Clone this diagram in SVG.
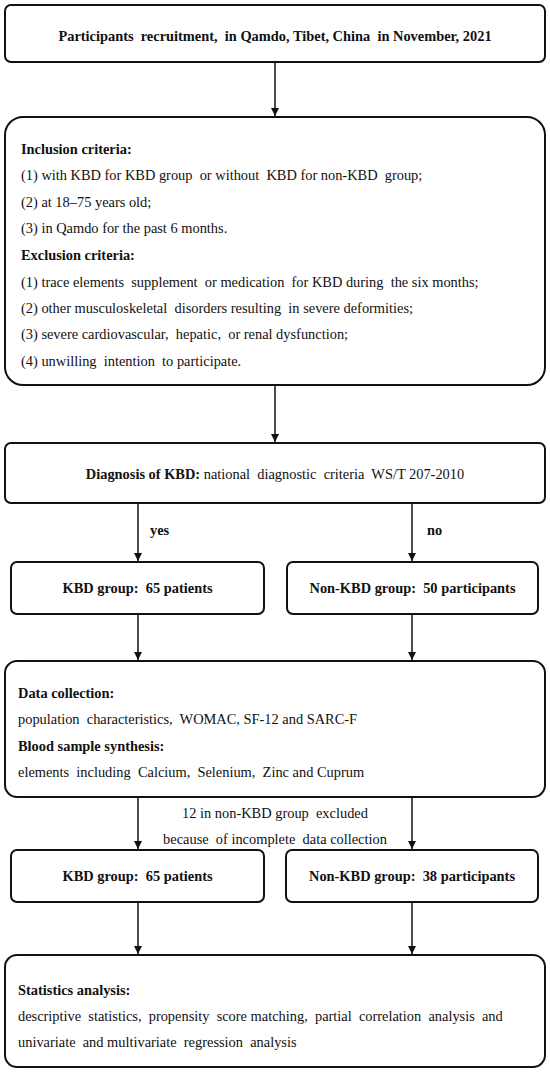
<svg xmlns="http://www.w3.org/2000/svg" width="550" height="1074" viewBox="0 0 550 1074">
<defs>
<marker id="ah" viewBox="0 0 8 10" refX="8" refY="5" markerWidth="8" markerHeight="10" markerUnits="userSpaceOnUse" orient="auto">
<path d="M0,1 L8,5 L0,9 Z" fill="#111"/>
</marker>
<style>
.box{fill:#fff;stroke:#111;stroke-width:2}
.t{font-family:"Liberation Serif","Times New Roman",serif;font-size:14.4px;fill:#111}
.b{font-weight:bold}
.c{text-anchor:middle}
.conn line{stroke:#111;stroke-width:1.5;marker-end:url(#ah)}
</style>
</defs>
<rect width="550" height="1074" fill="#fff"/>
<g id="n1"><rect class="box" x="5" y="5" width="540" height="57" rx="6"/>
<text class="t b c" x="275" y="41" xml:space="preserve">Participants  recruitment,  in Qamdo, Tibet, China  in November, 2021</text></g>
<g id="n2"><rect class="box" x="5" y="117" width="540" height="268" rx="18"/>
<text class="t b" x="21" y="154">Inclusion criteria:</text>
<text class="t" x="21" y="180" xml:space="preserve">(1) with KBD for KBD group  or without  KBD for non-KBD  group;</text>
<text class="t" x="21" y="207">(2) at 18–75 years old;</text>
<text class="t" x="21" y="233">(3) in Qamdo for the past 6 months.</text>
<text class="t b" x="21" y="260">Exclusion criteria:</text>
<text class="t" x="21" y="287" xml:space="preserve">(1) trace elements  supplement  or medication  for KBD during  the six months;</text>
<text class="t" x="21" y="313" xml:space="preserve">(2) other musculoskeletal  disorders resulting  in severe deformities;</text>
<text class="t" x="21" y="339" xml:space="preserve">(3) severe cardiovascular,  hepatic,  or renal dysfunction;</text>
<text class="t" x="21" y="366" xml:space="preserve">(4) unwilling  intention  to participate.</text></g>
<g id="n3"><rect class="box" x="5" y="443" width="540" height="60" rx="6"/>
<text class="t c" x="275" y="479" xml:space="preserve"><tspan class="b">Diagnosis of KBD:</tspan> national  diagnostic  criteria  WS/T 207-2010</text></g>
<g id="n4"><rect class="box" x="11" y="562" width="253" height="52" rx="6"/>
<text class="t b c" x="137.5" y="593" xml:space="preserve">KBD group:  65 patients</text></g>
<g id="n5"><rect class="box" x="287" y="562" width="251" height="52" rx="6"/>
<text class="t b c" x="412.5" y="593" xml:space="preserve">Non-KBD group:  50 participants</text></g>
<g id="n6"><rect class="box" x="5" y="661" width="540" height="136" rx="12"/>
<text class="t b" x="18" y="698">Data collection:</text>
<text class="t" x="18" y="724" xml:space="preserve">population  characteristics,  WOMAC, SF-12 and SARC-F</text>
<text class="t b" x="18" y="751">Blood sample synthesis:</text>
<text class="t" x="18" y="777" xml:space="preserve">elements  including  Calcium,  Selenium,  Zinc and Cuprum</text></g>
<g id="n7"><text class="t c" x="275" y="818" xml:space="preserve">12 in non-KBD group  excluded</text>
<text class="t c" x="275" y="844" xml:space="preserve">because  of incomplete  data collection</text></g>
<g id="n8"><rect class="box" x="11" y="850" width="253" height="52" rx="6"/>
<text class="t b c" x="137.5" y="881" xml:space="preserve">KBD group:  65 patients</text></g>
<g id="n9"><rect class="box" x="286" y="850" width="252" height="52" rx="6"/>
<text class="t b c" x="412" y="881" xml:space="preserve">Non-KBD group:  38 participants</text></g>
<g id="n10"><rect class="box" x="5" y="955" width="540" height="112" rx="12"/>
<text class="t b" x="18" y="995">Statistics analysis:</text>
<text class="t" x="18" y="1021" xml:space="preserve">descriptive  statistics,  propensity  score matching,  partial  correlation  analysis  and</text>
<text class="t" x="18" y="1047" xml:space="preserve">univariate  and multivariate  regression  analysis</text></g>
<g id="connectors" class="conn">
<line x1="275" y1="62" x2="275" y2="116"/>
<line x1="275" y1="385" x2="275" y2="442"/>
<line x1="138" y1="503" x2="138" y2="561"/>
<line x1="412" y1="503" x2="412" y2="561"/>
<line x1="138" y1="614" x2="138" y2="660"/>
<line x1="412" y1="614" x2="412" y2="660"/>
<line x1="138" y1="797" x2="138" y2="849"/>
<line x1="412" y1="797" x2="412" y2="849"/>
<line x1="138" y1="902" x2="138" y2="954"/>
<line x1="412" y1="902" x2="412" y2="954"/>
<text class="t b" x="150" y="535">yes</text>
<text class="t b" x="427" y="535">no</text>
</g>
</svg>
